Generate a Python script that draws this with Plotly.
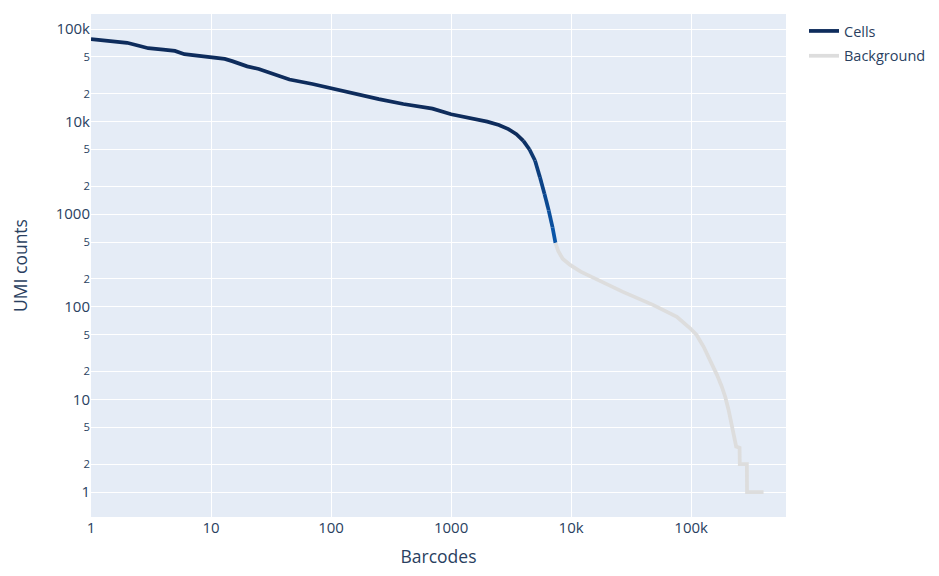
import plotly.graph_objects as go

# Barcode rank data
cells_x = [1, 1.5, 2, 2.5, 3, 4, 5, 6, 8, 10, 13, 15, 20, 25, 30, 35, 45, 70, 100, 150,
           250, 400, 700, 1000, 1500, 2000, 2500, 3000, 3500, 4000, 4500, 5000, 5500,
           6000, 6500, 7000, 7400]
cells_y = [78000, 74000, 71000, 66000, 62000, 60000, 58000, 53500, 51000, 48500, 47500,
           45000, 39500, 37000, 34000, 31500, 28500, 25500, 23000, 20000, 17500, 15500,
           13800, 12000, 10800, 10000, 9200, 8300, 7300, 6200, 5000, 3800, 2500, 1650,
           1100, 720, 490]

bg_x = [7400, 7800, 8500, 9800, 12000, 16500, 27000, 48000, 55000, 76000, 98000, 111000,
        127000, 144000, 164000, 180000, 192000, 205000, 215000, 228000, 237000, 253000,
        254000, 291000, 292000, 401000]
bg_y = [490, 400, 330, 283, 240, 195, 145, 105, 96, 78, 58.6, 49.6, 37, 26.7, 18.4, 13.7,
        10.7, 7.7, 5.5, 4, 3.1, 3, 2, 2, 1, 1]

CELL_COLOR = (14, 44, 92)
CELL_END = (10, 85, 168)
BG_COLOR = "#dddddd"
LW = 3.75

fig = go.Figure()

grad_start = cells_x.index(4000)
fig.add_trace(go.Scatter(x=cells_x[:grad_start + 1], y=cells_y[:grad_start + 1],
                         mode="lines", name="Cells",
                         line=dict(color="rgb(%d,%d,%d)" % CELL_COLOR, width=LW),
                         legendgroup="cells", hoverinfo="x+y"))
n = len(cells_x) - 1 - grad_start
for k in range(n):
    i = grad_start + k
    t = (k + 1) / n
    c = tuple(int(round(CELL_COLOR[j] + (CELL_END[j] - CELL_COLOR[j]) * t)) for j in range(3))
    fig.add_trace(go.Scatter(x=cells_x[i:i + 2], y=cells_y[i:i + 2], mode="lines",
                             showlegend=False, legendgroup="cells",
                             line=dict(color="rgb(%d,%d,%d)" % c, width=LW),
                             hoverinfo="x+y"))

fig.add_trace(go.Scatter(x=bg_x, y=bg_y, mode="lines", name="Background",
                         line=dict(color=BG_COLOR, width=LW), hoverinfo="x+y"))

fig.update_layout(
    width=923, height=560,
    margin=dict(l=83, r=145, t=6, b=51, autoexpand=False),
    template="plotly",
    legend=dict(x=1.0259, y=0.998, font=dict(size=14.5), tracegroupgap=3),
)
fig.update_xaxes(type="log", range=[0, 5.79], dtick=1, automargin=False,
                 title=dict(text="Barcodes", font=dict(size=17.5), standoff=20),
                 tickfont=dict(size=15))
fig.update_yaxes(type="log", range=[-0.27, 5.162], automargin=False,
                 title=dict(text="UMI counts", font=dict(size=17.5), standoff=26),
                 tickfont=dict(size=15))

fig.write_html("out.html")
